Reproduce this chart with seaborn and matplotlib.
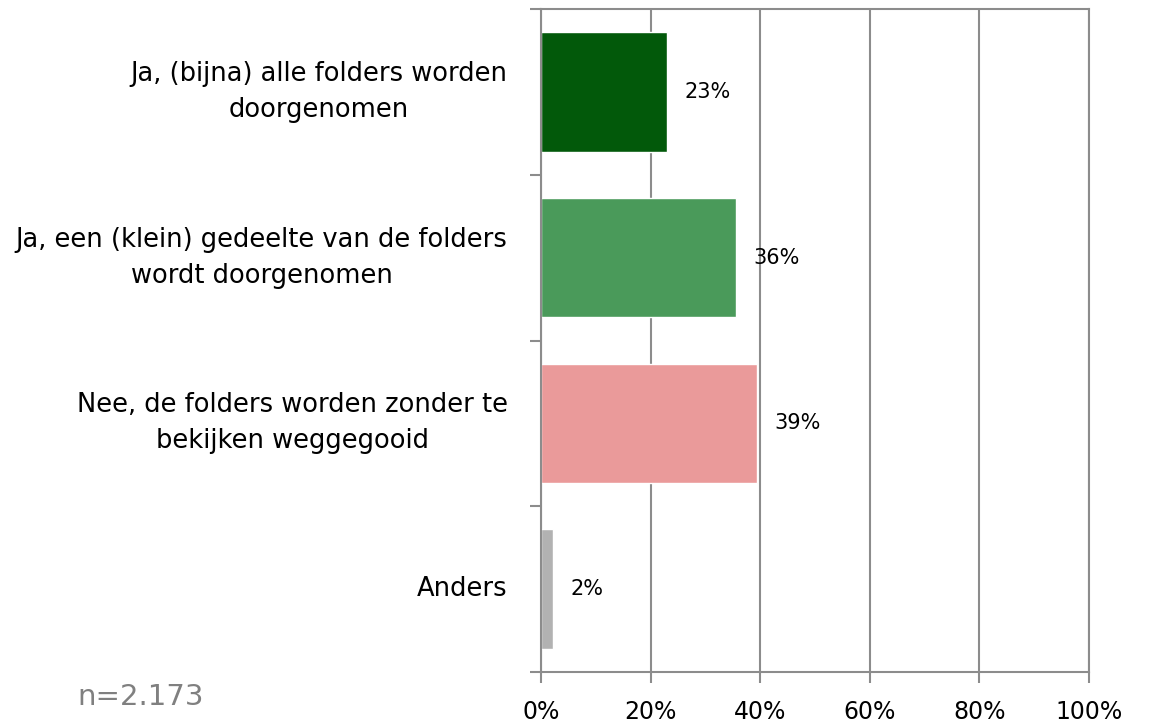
import matplotlib
matplotlib.use('Agg')
import matplotlib.pyplot as plt
import seaborn as sns
import pandas as pd

# Data
categories = [
    'Ja, (bijna) alle folders worden\ndoorgenomen',
    'Ja, een (klein) gedeelte van de folders\nwordt doorgenomen',
    'Nee, de folders worden zonder te\nbekijken weggegooid',
    'Anders',
]
values = [0.23, 0.356, 0.394, 0.022]
value_labels = ['23%', '36%', '39%', '2%']
colors = ['#02590a', '#4a9a5a', '#ea9a9a', '#b2b2b2']
x_ticks = [0, 0.2, 0.4, 0.6, 0.8, 1.0]
x_ticklabels = ['0%', '20%', '40%', '60%', '80%', '100%']
n_text = 'n=2.173'

df = pd.DataFrame({'Antwoord': categories, 'Aandeel': values})

sns.set_style('white')
plt.rcParams['font.family'] = ['DejaVu Sans']

fig = plt.figure(figsize=(11.53, 7.24), dpi=100)
ax = fig.add_axes([541 / 1153, 1 - 672 / 724, 548 / 1153, 663 / 724])

sns.barplot(data=df, y='Antwoord', x='Aandeel', hue='Antwoord',
            palette=colors, orient='h', width=0.72, legend=False,
            saturation=1, ax=ax)

ax.set_xlim(0, 1)
ax.set_ylim(3.5, -0.5)
ax.set_xlabel('')
ax.set_ylabel('')

# gridlines
ax.set_xticks(x_ticks)
ax.set_xticklabels(x_ticklabels, fontsize=17, color='black')
ax.grid(axis='x', color='#8c8c8c', linewidth=1.5)
ax.set_axisbelow(True)

# y tick labels at centres, tick marks at category boundaries
ax.set_yticks(range(len(categories)))
ax.set_yticklabels(categories, fontsize=18.5, color='black',
                   multialignment='center', linespacing=1.5)
for lab in ax.get_yticklabels():
    lab.set_verticalalignment('center')
ax.set_yticks([-0.5, 0.5, 1.5, 2.5, 3.5], minor=True)
ax.tick_params(axis='y', which='major', length=0, pad=24)
ax.tick_params(axis='y', which='minor', length=8, width=1.5,
               color='#8c8c8c', left=True)
ax.tick_params(axis='x', which='major', length=8, width=1.5,
               color='#8c8c8c', bottom=True, pad=12)

for side in ['left', 'bottom', 'top', 'right']:
    ax.spines[side].set_visible(True)
    ax.spines[side].set_color('#8c8c8c')
    ax.spines[side].set_linewidth(1.5)

for i, (v, lab) in enumerate(zip(values, value_labels)):
    ax.text(v + 0.031, i, lab, va='center', ha='left', fontsize=15, color='black')

fig.text(77 / 1153, 1 - 697 / 724, n_text, fontsize=21, color='#808080',
         ha='left', va='center')

fig.savefig('out.png', dpi=100)
